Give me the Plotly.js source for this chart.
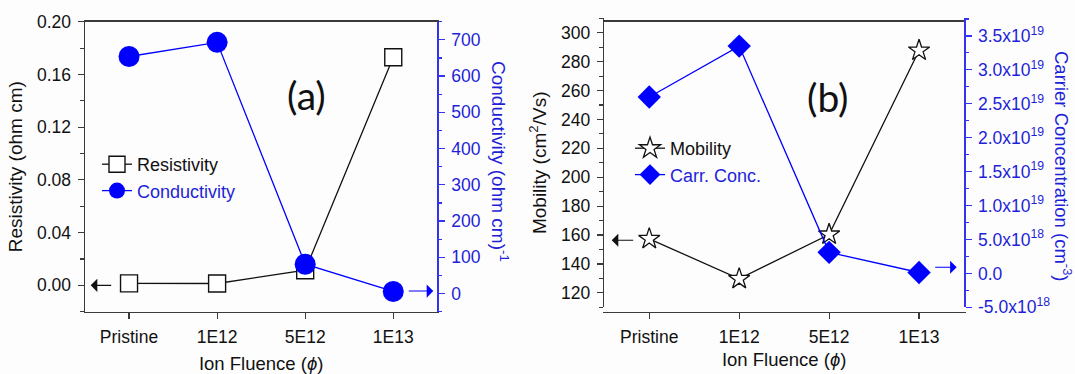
<!DOCTYPE html>
<html>
<head>
<meta charset="utf-8">
<script src="https://cdn.plot.ly/plotly-3.0.1.min.js"></script>
<style>html,body{margin:0;padding:0;background:#fdfdfd;}#chart{width:1075px;height:374px;}</style>
</head>
<body>
<div id="chart"></div>
<script>
// ---- data ----
const categories = ['Pristine', '1E12', '5E12', '1E13'];
const resistivity = [0.0015, 0.0014, 0.0115, 0.173];      // ohm cm
const conductivity = [654, 693, 81, 5.8];                 // (ohm cm)^-1
const mobility = [157.4, 129.7, 160.4, 287.7];             // cm^2/Vs
const carrierConc = [2.60e19, 3.35e19, 3.1e18, 1.3e17];    // cm^-3
const carrierTickVals = [-5e18, 0, 5e18, 1e19, 1.5e19, 2e19, 2.5e19, 3e19, 3.5e19];
const carrierTickText = ['-5.0x10<sup>18</sup>', '0.0', '5.0x10<sup>18</sup>', '1.0x10<sup>19</sup>',
  '1.5x10<sup>19</sup>', '2.0x10<sup>19</sup>', '2.5x10<sup>19</sup>', '3.0x10<sup>19</sup>', '3.5x10<sup>19</sup>'];

const BLUE = '#0000ff';
const BLUE_AX = '#3434f0';
const BLUE_TXT = '#1f1fd8';
const BLACK = '#111111';
const W = 1075, H = 374;
const px = v => v / W;
const py = v => 1 - v / H;

const traces = [
  {x: categories, y: resistivity, xaxis: 'x', yaxis: 'y', name: 'Resistivity', legend: 'legend',
   mode: 'lines+markers', line: {color: BLACK, width: 1.3},
   marker: {symbol: 'square', size: 17, color: '#ffffff', line: {color: BLACK, width: 1.4}}},
  {x: categories, y: conductivity, xaxis: 'x', yaxis: 'y2', name: '<span style="color:#1f1fd8">Conductivity</span>', legend: 'legend',
   mode: 'lines+markers', line: {color: BLUE, width: 1.3},
   marker: {symbol: 'circle', size: 21, color: BLUE}},
  {x: categories, y: mobility, xaxis: 'x2', yaxis: 'y3', name: 'Mobility', legend: 'legend2',
   mode: 'lines+markers', line: {color: BLACK, width: 1.3},
   marker: {symbol: 'star', size: 16, color: '#ffffff', line: {color: BLACK, width: 1.3}}},
  {x: categories, y: carrierConc, xaxis: 'x2', yaxis: 'y4', name: '<span style="color:#1f1fd8">Carr. Conc.</span>', legend: 'legend2',
   mode: 'lines+markers', line: {color: BLUE, width: 1.3},
   marker: {symbol: 'diamond', size: 18, color: BLUE}}
];

const FAM = 'Liberation Sans, Arial, sans-serif';
const tickFont = {family: FAM, size: 17.5, color: BLACK};
const blueTickFont = {family: FAM, size: 17.5, color: BLUE_TXT};
const titleFont = {family: FAM, size: 19, color: BLACK};

function xAxis(domain, standoff) {
  return {domain: domain, type: 'category', range: [-0.5, 3.5],
    showline: true, linecolor: '#3a3a3a', linewidth: 1.5, mirror: true,
    ticks: 'outside', ticklen: 6, tickwidth: 1.2, tickcolor: '#3a3a3a',
    showgrid: false, zeroline: false, tickfont: tickFont, ticklabelstandoff: 3,
    title: {text: 'Ion Fluence (<i>ϕ</i>)', font: {family: FAM, size: 18.5, color: BLACK}, standoff: standoff}};
}

const arrowStyle = {showarrow: true, arrowhead: 1, arrowsize: 2, arrowwidth: 1.1};

const layout = {
  width: W, height: H,
  margin: {l: 0, r: 0, t: 0, b: 0},
  paper_bgcolor: '#fdfdfd', plot_bgcolor: '#fdfdfd',
  font: {family: FAM, color: BLACK},
  showlegend: true,
  xaxis: xAxis([px(85), px(437.3)], 11),
  yaxis: {domain: [py(311.7), py(21.7)], anchor: 'x', range: [-0.02, 0.20], dtick: 0.04, tick0: 0,
    tickformat: '.2f', showline: true, linecolor: '#3a3a3a', linewidth: 1.5,
    ticks: 'outside', ticklen: 6, tickwidth: 1.2, tickcolor: '#3a3a3a', ticklabelstandoff: 3,
    minor: {dtick: 0.02, tick0: 0, ticklen: 3.5, tickwidth: 1.1, tickcolor: '#3a3a3a', ticks: 'outside'},
    showgrid: false, zeroline: false, tickfont: tickFont,
    title: {text: 'Resistivity (ohm cm)', font: titleFont, standoff: 9}},
  yaxis2: {overlaying: 'y', side: 'right', anchor: 'x', range: [-50, 750], dtick: 100, tick0: 0,
    showline: true, linecolor: BLUE_AX, linewidth: 1.5,
    ticks: 'outside', ticklen: 6, tickwidth: 1.2, tickcolor: BLUE_AX, ticklabelstandoff: 3,
    minor: {dtick: 50, tick0: 0, ticklen: 3.5, tickwidth: 1.1, tickcolor: BLUE_AX, ticks: 'outside'},
    showgrid: false, zeroline: false, tickfont: blueTickFont},
  xaxis2: xAxis([px(604.3), px(964)], 7),
  yaxis3: {domain: [py(307.3), py(18.3)], anchor: 'x2', range: [110, 310], dtick: 20, tick0: 0,
    showline: true, linecolor: '#3a3a3a', linewidth: 1.5,
    ticks: 'outside', ticklen: 6, tickwidth: 1.2, tickcolor: '#3a3a3a', ticklabelstandoff: 3,
    minor: {dtick: 10, tick0: 0, ticklen: 3.5, tickwidth: 1.1, tickcolor: '#3a3a3a', ticks: 'outside'},
    showgrid: false, zeroline: false, tickfont: tickFont,
    title: {text: 'Mobility (cm<sup>2</sup>/Vs)', font: titleFont, standoff: 9}},
  yaxis4: {overlaying: 'y3', side: 'right', anchor: 'x2', range: [-5e18, 3.76e19],
    tickmode: 'array', tickvals: carrierTickVals, ticktext: carrierTickText,
    showline: true, linecolor: BLUE_AX, linewidth: 1.5,
    ticks: 'outside', ticklen: 6, tickwidth: 1.2, tickcolor: BLUE_AX, ticklabelstandoff: 3,
    minor: {tickmode: 'linear', dtick: 2.5e18, tick0: 0, ticklen: 3.5, tickwidth: 1.1, tickcolor: BLUE_AX, ticks: 'outside'},
    showgrid: false, zeroline: false, tickfont: blueTickFont},
  legend: {x: px(97), y: py(146), xanchor: 'left', yanchor: 'top', bgcolor: 'rgba(0,0,0,0)',
    borderwidth: 0, itemsizing: 'trace', tracegroupgap: 0,
    font: {family: FAM, size: 18, color: BLACK}},
  legend2: {x: px(630), y: py(130), xanchor: 'left', yanchor: 'top', bgcolor: 'rgba(0,0,0,0)',
    borderwidth: 0, itemsizing: 'trace', tracegroupgap: 0,
    font: {family: FAM, size: 18, color: BLACK}},
  annotations: [
    {text: '(a)', xref: 'paper', yref: 'paper', x: px(306), y: py(95), xanchor: 'center', yanchor: 'middle',
     showarrow: false, font: {family: 'Lato, Open Sans, sans-serif', size: 39, color: '#111'}},
    {text: '(b)', xref: 'paper', yref: 'paper', x: px(828), y: py(97), xanchor: 'center', yanchor: 'middle',
     showarrow: false, font: {family: 'Lato, Open Sans, sans-serif', size: 39, color: '#111'}},
    {text: 'Conductivity (ohm cm)<sup>-1</sup>', xref: 'paper', yref: 'paper', x: px(500), y: py(161),
     xanchor: 'center', yanchor: 'middle', textangle: 90, showarrow: false,
     font: {family: FAM, size: 19, color: BLUE_TXT}},
    {text: 'Carrier Concentration (cm<sup>-3</sup>)', xref: 'paper', yref: 'paper', x: px(1063), y: py(166),
     xanchor: 'center', yanchor: 'middle', textangle: 90, showarrow: false,
     font: {family: FAM, size: 18.5, color: BLUE_TXT}},
    // arrows pointing to the relevant axes
    Object.assign({text: '', xref: 'paper', yref: 'y', x: px(90.7), y: 0, ax: 22, ay: 0, arrowcolor: BLACK}, arrowStyle),
    Object.assign({text: '', xref: 'paper', yref: 'y2', x: px(433.3), y: 7, ax: -26, ay: 0, arrowcolor: BLUE}, arrowStyle),
    Object.assign({text: '', xref: 'paper', yref: 'y3', x: px(611.7), y: 156.4, ax: 23, ay: 0, arrowcolor: BLACK}, arrowStyle),
    Object.assign({text: '', xref: 'paper', yref: 'y4', x: px(956.7), y: 0.9e18, ax: -23, ay: 0, arrowcolor: BLUE}, arrowStyle)
  ]
};

Plotly.newPlot('chart', traces, layout, {displayModeBar: false, staticPlot: true});
</script>
</body>
</html>
